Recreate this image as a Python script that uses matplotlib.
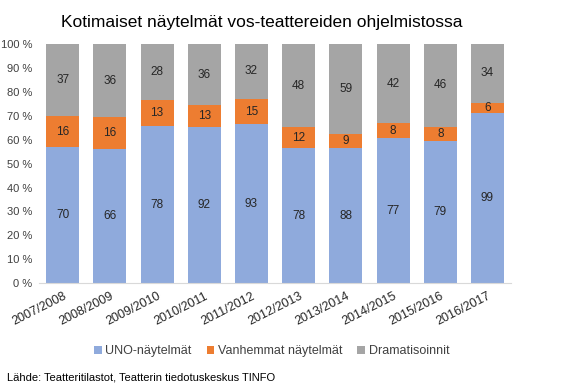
import matplotlib
matplotlib.use('Agg')
from matplotlib import pyplot as plt
import numpy as np

plt.rcParams['font.family'] = ['Liberation Sans', 'DejaVu Sans']

# Data
kaudet = ["2007/2008", "2008/2009", "2009/2010", "2010/2011", "2011/2012",
          "2012/2013", "2013/2014", "2014/2015", "2015/2016", "2016/2017"]
uno = [70, 66, 78, 92, 93, 78, 88, 77, 79, 99]
vanhemmat = [16, 16, 13, 13, 15, 12, 9, 8, 8, 6]
dramatisoinnit = [37, 36, 28, 36, 32, 48, 59, 42, 46, 34]

sarjat = [("UNO-näytelmät", uno, '#8FAADC'),
          ("Vanhemmat näytelmät", vanhemmat, '#ED7D31'),
          ("Dramatisoinnit", dramatisoinnit, '#A5A5A5')]

fig = plt.figure(figsize=(5.66, 3.9), dpi=100)
ax = fig.add_axes([0.069, 0.274, 0.834, 0.613])

x = np.arange(len(kaudet))
total = np.array(uno) + np.array(vanhemmat) + np.array(dramatisoinnit)
bottom = np.zeros(len(kaudet))
for nimi, arvot, vari in sarjat:
    osuus = np.array(arvot) / total * 100
    ax.bar(x, osuus, 0.7, bottom=bottom, color=vari, label=nimi)
    for i, v in enumerate(arvot):
        ax.text(x[i], bottom[i] + osuus[i] / 2, str(v), ha='center', va='center',
                fontsize=8.5, color='#262626')
    bottom += osuus

ax.set_xlim(-0.5, len(kaudet) - 0.5)
ax.set_ylim(0, 100)
ax.set_yticks(range(0, 101, 10))
ax.set_yticklabels([f"{v} %" for v in range(0, 101, 10)], fontsize=8, color='#404040')
ax.set_xticks(x)
ax.set_xticklabels(kaudet, rotation=27, ha='right', rotation_mode='anchor',
                   fontsize=9, color='#262626')
ax.tick_params(length=0, pad=5)
for s in ['top', 'right', 'left']:
    ax.spines[s].set_visible(False)
ax.spines['bottom'].set_color('#D9D9D9')

fig.text(0.462, 0.943, "Kotimaiset näytelmät vos-teattereiden ohjelmistossa",
         ha='center', va='center', fontsize=12.5, color='black')

fig.legend(loc='center', bbox_to_anchor=(0.48, 0.1), ncol=3, frameon=False,
           fontsize=9, handlelength=0.6, handleheight=0.6, handletextpad=0.3,
           columnspacing=1.2, labelcolor='#404040')

fig.text(0.012, 0.033, "Lähde: Teatteritilastot, Teatterin tiedotuskeskus TINFO",
         ha='left', va='center', fontsize=8, color='black')

fig.savefig('out.png', dpi=100)
